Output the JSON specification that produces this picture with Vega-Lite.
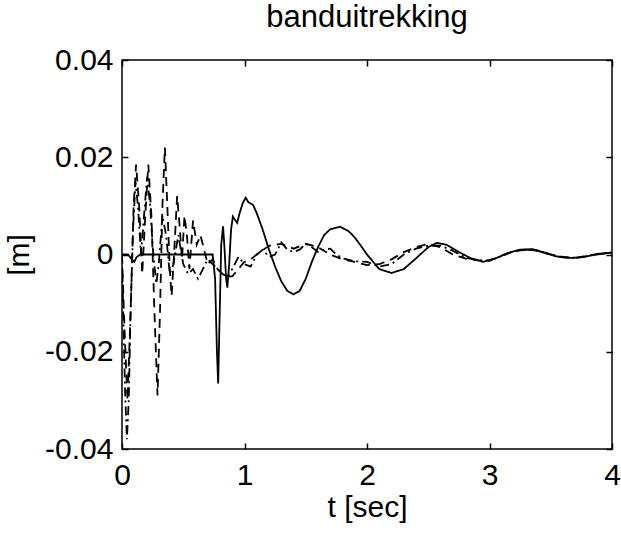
{
  "$schema": "https://vega.github.io/schema/vega-lite/v6.json",
  "width": 490,
  "height": 389,
  "autosize": {"type": "none"},
  "padding": {"left": 122, "top": 60, "right": 9, "bottom": 84},
  "background": "white",
  "title": {"text": "banduitrekking", "font": "Liberation Sans", "fontSize": 31, "fontWeight": "normal", "color": "black", "anchor": "middle", "offset": 11},
  "config": {
    "view": {"stroke": "black", "strokeWidth": 1.5},
    "axis": {"domain": false, "grid": false, "ticks": true, "tickColor": "black", "tickWidth": 1.5, "tickSize": -6,
      "labelFont": "Liberation Sans", "labelFontSize": 30, "labelColor": "black",
      "titleFont": "Liberation Sans", "titleFontSize": 30, "titleFontWeight": "normal", "titleColor": "black"}
  },
  "datasets": {
    "curves": [
      {"t": 0, "v": 0, "s": "solid"},
      {"t": 0.05, "v": 0, "s": "solid"},
      {"t": 0.08, "v": -0.001, "s": "solid"},
      {"t": 0.1, "v": -0.0015, "s": "solid"},
      {"t": 0.12, "v": -0.0005, "s": "solid"},
      {"t": 0.15, "v": 0, "s": "solid"},
      {"t": 0.3, "v": 0, "s": "solid"},
      {"t": 0.5, "v": 0, "s": "solid"},
      {"t": 0.74, "v": 0, "s": "solid"},
      {"t": 0.76, "v": -0.005, "s": "solid"},
      {"t": 0.775, "v": -0.02, "s": "solid"},
      {"t": 0.785, "v": -0.0265, "s": "solid"},
      {"t": 0.795, "v": -0.015, "s": "solid"},
      {"t": 0.81, "v": 0.002, "s": "solid"},
      {"t": 0.825, "v": 0.0058, "s": "solid"},
      {"t": 0.835, "v": 0.002, "s": "solid"},
      {"t": 0.85, "v": -0.005, "s": "solid"},
      {"t": 0.86, "v": -0.0068, "s": "solid"},
      {"t": 0.875, "v": -0.002, "s": "solid"},
      {"t": 0.89, "v": 0.005, "s": "solid"},
      {"t": 0.905, "v": 0.0078, "s": "solid"},
      {"t": 0.92, "v": 0.0072, "s": "solid"},
      {"t": 0.94, "v": 0.0065, "s": "solid"},
      {"t": 0.96, "v": 0.0085, "s": "solid"},
      {"t": 0.985, "v": 0.0105, "s": "solid"},
      {"t": 1.01, "v": 0.0117, "s": "solid"},
      {"t": 1.03, "v": 0.0108, "s": "solid"},
      {"t": 1.07, "v": 0.0102, "s": "solid"},
      {"t": 1.1, "v": 0.0085, "s": "solid"},
      {"t": 1.15, "v": 0.005, "s": "solid"},
      {"t": 1.2, "v": 0.001, "s": "solid"},
      {"t": 1.25, "v": -0.0025, "s": "solid"},
      {"t": 1.3, "v": -0.0055, "s": "solid"},
      {"t": 1.35, "v": -0.0075, "s": "solid"},
      {"t": 1.4, "v": -0.0082, "s": "solid"},
      {"t": 1.45, "v": -0.0075, "s": "solid"},
      {"t": 1.5, "v": -0.005, "s": "solid"},
      {"t": 1.55, "v": -0.0015, "s": "solid"},
      {"t": 1.6, "v": 0.0015, "s": "solid"},
      {"t": 1.65, "v": 0.004, "s": "solid"},
      {"t": 1.7, "v": 0.0052, "s": "solid"},
      {"t": 1.78, "v": 0.0057, "s": "solid"},
      {"t": 1.85, "v": 0.0048, "s": "solid"},
      {"t": 1.9, "v": 0.0035, "s": "solid"},
      {"t": 1.95, "v": 0.0018, "s": "solid"},
      {"t": 2.0, "v": 0, "s": "solid"},
      {"t": 2.05, "v": -0.0015, "s": "solid"},
      {"t": 2.1, "v": -0.003, "s": "solid"},
      {"t": 2.2, "v": -0.0038, "s": "solid"},
      {"t": 2.3, "v": -0.003, "s": "solid"},
      {"t": 2.4, "v": -0.0008, "s": "solid"},
      {"t": 2.5, "v": 0.0015, "s": "solid"},
      {"t": 2.57, "v": 0.0024, "s": "solid"},
      {"t": 2.65, "v": 0.002, "s": "solid"},
      {"t": 2.75, "v": 0.0005, "s": "solid"},
      {"t": 2.85, "v": -0.0008, "s": "solid"},
      {"t": 2.95, "v": -0.0015, "s": "solid"},
      {"t": 3.05, "v": -0.0008, "s": "solid"},
      {"t": 3.15, "v": 0.0003, "s": "solid"},
      {"t": 3.25, "v": 0.001, "s": "solid"},
      {"t": 3.35, "v": 0.0011, "s": "solid"},
      {"t": 3.45, "v": 0.0003, "s": "solid"},
      {"t": 3.55, "v": -0.0004, "s": "solid"},
      {"t": 3.65, "v": -0.0007, "s": "solid"},
      {"t": 3.75, "v": -0.0006, "s": "solid"},
      {"t": 3.85, "v": -0.0001, "s": "solid"},
      {"t": 4.0, "v": 0.0004, "s": "solid"},

      {"t": 0, "v": 0, "s": "dashed"},
      {"t": 0.02, "v": -0.015, "s": "dashed"},
      {"t": 0.045, "v": -0.03, "s": "dashed"},
      {"t": 0.07, "v": -0.012, "s": "dashed"},
      {"t": 0.095, "v": 0.01, "s": "dashed"},
      {"t": 0.115, "v": 0.0185, "s": "dashed"},
      {"t": 0.14, "v": 0.01, "s": "dashed"},
      {"t": 0.165, "v": -0.004, "s": "dashed"},
      {"t": 0.19, "v": 0.008, "s": "dashed"},
      {"t": 0.215, "v": 0.0185, "s": "dashed"},
      {"t": 0.24, "v": 0.008, "s": "dashed"},
      {"t": 0.265, "v": -0.012, "s": "dashed"},
      {"t": 0.29, "v": -0.029, "s": "dashed"},
      {"t": 0.31, "v": -0.012, "s": "dashed"},
      {"t": 0.33, "v": 0.01, "s": "dashed"},
      {"t": 0.35, "v": 0.022, "s": "dashed"},
      {"t": 0.37, "v": 0.01, "s": "dashed"},
      {"t": 0.39, "v": -0.003, "s": "dashed"},
      {"t": 0.405, "v": -0.0085, "s": "dashed"},
      {"t": 0.425, "v": 0, "s": "dashed"},
      {"t": 0.45, "v": 0.012, "s": "dashed"},
      {"t": 0.47, "v": 0.006, "s": "dashed"},
      {"t": 0.49, "v": -0.001, "s": "dashed"},
      {"t": 0.51, "v": 0.008, "s": "dashed"},
      {"t": 0.53, "v": 0.004, "s": "dashed"},
      {"t": 0.55, "v": -0.003, "s": "dashed"},
      {"t": 0.58, "v": 0.007, "s": "dashed"},
      {"t": 0.61, "v": 0.002, "s": "dashed"},
      {"t": 0.64, "v": 0.004, "s": "dashed"},
      {"t": 0.67, "v": 0.001, "s": "dashed"},
      {"t": 0.7, "v": -0.002, "s": "dashed"},
      {"t": 0.74, "v": -0.001, "s": "dashed"},
      {"t": 0.78, "v": -0.003, "s": "dashed"},
      {"t": 0.82, "v": -0.004, "s": "dashed"},
      {"t": 0.86, "v": -0.0045, "s": "dashed"},
      {"t": 0.9, "v": -0.0045, "s": "dashed"},
      {"t": 0.95, "v": -0.003, "s": "dashed"},
      {"t": 1.0, "v": -0.0015, "s": "dashed"},
      {"t": 1.05, "v": -0.001, "s": "dashed"},
      {"t": 1.1, "v": 0, "s": "dashed"},
      {"t": 1.2, "v": 0.0018, "s": "dashed"},
      {"t": 1.3, "v": 0.0022, "s": "dashed"},
      {"t": 1.4, "v": 0.0012, "s": "dashed"},
      {"t": 1.5, "v": 0.0022, "s": "dashed"},
      {"t": 1.6, "v": 0.0015, "s": "dashed"},
      {"t": 1.7, "v": 0, "s": "dashed"},
      {"t": 1.8, "v": -0.001, "s": "dashed"},
      {"t": 1.9, "v": -0.0015, "s": "dashed"},
      {"t": 2.0, "v": -0.0022, "s": "dashed"},
      {"t": 2.1, "v": -0.002, "s": "dashed"},
      {"t": 2.2, "v": -0.001, "s": "dashed"},
      {"t": 2.3, "v": 0.0005, "s": "dashed"},
      {"t": 2.4, "v": 0.0015, "s": "dashed"},
      {"t": 2.5, "v": 0.0022, "s": "dashed"},
      {"t": 2.6, "v": 0.0015, "s": "dashed"},
      {"t": 2.7, "v": 0, "s": "dashed"},
      {"t": 2.8, "v": -0.0008, "s": "dashed"},
      {"t": 2.9, "v": -0.0012, "s": "dashed"},
      {"t": 3.0, "v": -0.0013, "s": "dashed"},
      {"t": 3.1, "v": -0.0002, "s": "dashed"},
      {"t": 3.2, "v": 0.0007, "s": "dashed"},
      {"t": 3.3, "v": 0.001, "s": "dashed"},
      {"t": 3.4, "v": 0.0008, "s": "dashed"},
      {"t": 3.5, "v": 0, "s": "dashed"},
      {"t": 3.6, "v": -0.0005, "s": "dashed"},
      {"t": 3.7, "v": -0.0007, "s": "dashed"},
      {"t": 3.8, "v": -0.0003, "s": "dashed"},
      {"t": 3.9, "v": 0.0002, "s": "dashed"},
      {"t": 4.0, "v": 0.0004, "s": "dashed"},

      {"t": 0, "v": 0, "s": "dashdot"},
      {"t": 0.01, "v": -0.012, "s": "dashdot"},
      {"t": 0.025, "v": -0.028, "s": "dashdot"},
      {"t": 0.04, "v": -0.038, "s": "dashdot"},
      {"t": 0.055, "v": -0.03, "s": "dashdot"},
      {"t": 0.07, "v": -0.012, "s": "dashdot"},
      {"t": 0.09, "v": 0.005, "s": "dashdot"},
      {"t": 0.11, "v": 0.015, "s": "dashdot"},
      {"t": 0.13, "v": 0.01, "s": "dashdot"},
      {"t": 0.155, "v": 0, "s": "dashdot"},
      {"t": 0.18, "v": 0.008, "s": "dashdot"},
      {"t": 0.205, "v": 0.016, "s": "dashdot"},
      {"t": 0.23, "v": 0.01, "s": "dashdot"},
      {"t": 0.255, "v": 0, "s": "dashdot"},
      {"t": 0.28, "v": -0.006, "s": "dashdot"},
      {"t": 0.3, "v": -0.002, "s": "dashdot"},
      {"t": 0.33, "v": 0.008, "s": "dashdot"},
      {"t": 0.36, "v": 0.004, "s": "dashdot"},
      {"t": 0.39, "v": -0.004, "s": "dashdot"},
      {"t": 0.42, "v": -0.002, "s": "dashdot"},
      {"t": 0.46, "v": 0.004, "s": "dashdot"},
      {"t": 0.5, "v": -0.002, "s": "dashdot"},
      {"t": 0.54, "v": -0.004, "s": "dashdot"},
      {"t": 0.58, "v": -0.003, "s": "dashdot"},
      {"t": 0.62, "v": -0.005, "s": "dashdot"},
      {"t": 0.66, "v": -0.003, "s": "dashdot"},
      {"t": 0.7, "v": -0.001, "s": "dashdot"},
      {"t": 0.74, "v": -0.002, "s": "dashdot"},
      {"t": 0.78, "v": -0.003, "s": "dashdot"},
      {"t": 0.82, "v": -0.004, "s": "dashdot"},
      {"t": 0.86, "v": -0.0045, "s": "dashdot"},
      {"t": 0.9, "v": -0.003, "s": "dashdot"},
      {"t": 0.95, "v": -0.0005, "s": "dashdot"},
      {"t": 1.0, "v": -0.002, "s": "dashdot"},
      {"t": 1.05, "v": -0.0025, "s": "dashdot"},
      {"t": 1.1, "v": 0, "s": "dashdot"},
      {"t": 1.15, "v": 0.001, "s": "dashdot"},
      {"t": 1.2, "v": -0.0005, "s": "dashdot"},
      {"t": 1.25, "v": 0, "s": "dashdot"},
      {"t": 1.3, "v": 0.0025, "s": "dashdot"},
      {"t": 1.35, "v": 0.001, "s": "dashdot"},
      {"t": 1.4, "v": 0.0005, "s": "dashdot"},
      {"t": 1.45, "v": 0.001, "s": "dashdot"},
      {"t": 1.5, "v": 0.0022, "s": "dashdot"},
      {"t": 1.55, "v": 0.0015, "s": "dashdot"},
      {"t": 1.6, "v": 0.0005, "s": "dashdot"},
      {"t": 1.65, "v": 0.001, "s": "dashdot"},
      {"t": 1.7, "v": 0.0012, "s": "dashdot"},
      {"t": 1.75, "v": 0, "s": "dashdot"},
      {"t": 1.8, "v": -0.0008, "s": "dashdot"},
      {"t": 1.9, "v": -0.0014, "s": "dashdot"},
      {"t": 2.0, "v": -0.0015, "s": "dashdot"},
      {"t": 2.1, "v": -0.0025, "s": "dashdot"},
      {"t": 2.2, "v": -0.002, "s": "dashdot"},
      {"t": 2.3, "v": 0, "s": "dashdot"},
      {"t": 2.4, "v": 0.0012, "s": "dashdot"},
      {"t": 2.5, "v": 0.0018, "s": "dashdot"},
      {"t": 2.6, "v": 0.0018, "s": "dashdot"},
      {"t": 2.7, "v": 0.0008, "s": "dashdot"},
      {"t": 2.8, "v": -0.0006, "s": "dashdot"},
      {"t": 2.9, "v": -0.0012, "s": "dashdot"},
      {"t": 3.0, "v": -0.0012, "s": "dashdot"},
      {"t": 3.1, "v": -0.0003, "s": "dashdot"},
      {"t": 3.2, "v": 0.0007, "s": "dashdot"},
      {"t": 3.3, "v": 0.001, "s": "dashdot"},
      {"t": 3.4, "v": 0.0008, "s": "dashdot"},
      {"t": 3.5, "v": 0, "s": "dashdot"},
      {"t": 3.6, "v": -0.0006, "s": "dashdot"},
      {"t": 3.7, "v": -0.0007, "s": "dashdot"},
      {"t": 3.8, "v": -0.0003, "s": "dashdot"},
      {"t": 3.9, "v": 0.0002, "s": "dashdot"},
      {"t": 4.0, "v": 0.0004, "s": "dashdot"}
    ]
  },
  "data": {"name": "curves"},
  "resolve": {"axis": {"x": "independent", "y": "independent"}},
  "layer": [
    {
      "mark": {"type": "line", "color": "black", "strokeWidth": 1.8, "clip": true},
      "encoding": {
        "x": {"field": "t", "type": "quantitative", "scale": {"domain": [0, 4], "nice": false, "zero": false},
          "axis": {"orient": "bottom", "values": [0, 1, 2, 3, 4], "title": "t [sec]", "labelPadding": 17, "titlePadding": 2, "labelFlush": false}},
        "y": {"field": "v", "type": "quantitative", "scale": {"domain": [-0.04, 0.04], "nice": false, "zero": false},
          "axis": {"orient": "left", "values": [-0.04, -0.02, 0, 0.02, 0.04], "title": "[m]", "labelPadding": 15, "titlePadding": 10, "labelFlush": false,
            "labelExpr": "datum.value == 0 ? '0' : (datum.value < 0 ? '-' + format(-datum.value, '.2f') : format(datum.value, '.2f'))"}},
        "detail": {"field": "s", "type": "nominal"},
        "strokeDash": {"field": "s", "type": "nominal", "legend": null,
          "scale": {"domain": ["solid", "dashed", "dashdot"], "range": [[1, 0], [9, 6], [9, 4, 2, 4]]}}
      }
    },
    {
      "mark": {"type": "line", "opacity": 0},
      "encoding": {
        "x": {"field": "t", "type": "quantitative", "axis": {"orient": "top", "values": [0, 1, 2, 3, 4], "labels": false, "title": null}},
        "y": {"field": "v", "type": "quantitative", "axis": {"orient": "right", "values": [-0.04, -0.02, 0, 0.02, 0.04], "labels": false, "title": null}},
        "detail": {"field": "s", "type": "nominal"}
      }
    }
  ]
}
